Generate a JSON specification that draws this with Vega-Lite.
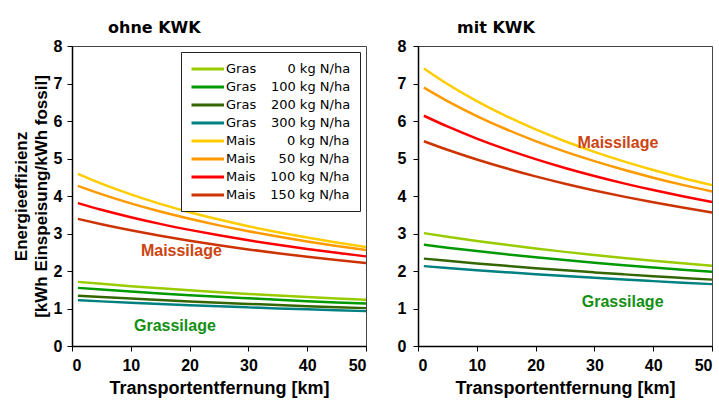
{
  "$schema": "https://vega.github.io/schema/vega-lite/v6.json",
  "padding": {"left": 11, "top": 19, "right": 3, "bottom": 2},
  "background": "white",
  "datasets": {
    "ohne": [
      {"serie":"Gras 0","km":1,"eff":1.71},{"serie":"Gras 0","km":5,"eff":1.657},{"serie":"Gras 0","km":10,"eff":1.596},{"serie":"Gras 0","km":15,"eff":1.538},{"serie":"Gras 0","km":20,"eff":1.485},{"serie":"Gras 0","km":25,"eff":1.436},{"serie":"Gras 0","km":30,"eff":1.389},{"serie":"Gras 0","km":35,"eff":1.346},{"serie":"Gras 0","km":40,"eff":1.305},{"serie":"Gras 0","km":45,"eff":1.266},{"serie":"Gras 0","km":50,"eff":1.23},
      {"serie":"Gras 100","km":1,"eff":1.55},{"serie":"Gras 100","km":5,"eff":1.504},{"serie":"Gras 100","km":10,"eff":1.451},{"serie":"Gras 100","km":15,"eff":1.401},{"serie":"Gras 100","km":20,"eff":1.355},{"serie":"Gras 100","km":25,"eff":1.311},{"serie":"Gras 100","km":30,"eff":1.271},{"serie":"Gras 100","km":35,"eff":1.232},{"serie":"Gras 100","km":40,"eff":1.196},{"serie":"Gras 100","km":45,"eff":1.162},{"serie":"Gras 100","km":50,"eff":1.13},
      {"serie":"Gras 200","km":1,"eff":1.34},{"serie":"Gras 200","km":5,"eff":1.305},{"serie":"Gras 200","km":10,"eff":1.264},{"serie":"Gras 200","km":15,"eff":1.226},{"serie":"Gras 200","km":20,"eff":1.189},{"serie":"Gras 200","km":25,"eff":1.155},{"serie":"Gras 200","km":30,"eff":1.123},{"serie":"Gras 200","km":35,"eff":1.092},{"serie":"Gras 200","km":40,"eff":1.063},{"serie":"Gras 200","km":45,"eff":1.036},{"serie":"Gras 200","km":50,"eff":1.01},
      {"serie":"Gras 300","km":1,"eff":1.22},{"serie":"Gras 300","km":5,"eff":1.19},{"serie":"Gras 300","km":10,"eff":1.154},{"serie":"Gras 300","km":15,"eff":1.12},{"serie":"Gras 300","km":20,"eff":1.088},{"serie":"Gras 300","km":25,"eff":1.058},{"serie":"Gras 300","km":30,"eff":1.03},{"serie":"Gras 300","km":35,"eff":1.003},{"serie":"Gras 300","km":40,"eff":0.977},{"serie":"Gras 300","km":45,"eff":0.953},{"serie":"Gras 300","km":50,"eff":0.93},
      {"serie":"Mais 0","km":1,"eff":4.59},{"serie":"Mais 0","km":5,"eff":4.329},{"serie":"Mais 0","km":10,"eff":4.042},{"serie":"Mais 0","km":15,"eff":3.79},{"serie":"Mais 0","km":20,"eff":3.568},{"serie":"Mais 0","km":25,"eff":3.371},{"serie":"Mais 0","km":30,"eff":3.194},{"serie":"Mais 0","km":35,"eff":3.035},{"serie":"Mais 0","km":40,"eff":2.891},{"serie":"Mais 0","km":45,"eff":2.76},{"serie":"Mais 0","km":50,"eff":2.64},
      {"serie":"Mais 50","km":1,"eff":4.27},{"serie":"Mais 50","km":5,"eff":4.049},{"serie":"Mais 50","km":10,"eff":3.803},{"serie":"Mais 50","km":15,"eff":3.586},{"serie":"Mais 50","km":20,"eff":3.392},{"serie":"Mais 50","km":25,"eff":3.217},{"serie":"Mais 50","km":30,"eff":3.06},{"serie":"Mais 50","km":35,"eff":2.918},{"serie":"Mais 50","km":40,"eff":2.788},{"serie":"Mais 50","km":45,"eff":2.669},{"serie":"Mais 50","km":50,"eff":2.56},
      {"serie":"Mais 100","km":1,"eff":3.81},{"serie":"Mais 100","km":5,"eff":3.634},{"serie":"Mais 100","km":10,"eff":3.435},{"serie":"Mais 100","km":15,"eff":3.257},{"serie":"Mais 100","km":20,"eff":3.097},{"serie":"Mais 100","km":25,"eff":2.951},{"serie":"Mais 100","km":30,"eff":2.819},{"serie":"Mais 100","km":35,"eff":2.698},{"serie":"Mais 100","km":40,"eff":2.587},{"serie":"Mais 100","km":45,"eff":2.484},{"serie":"Mais 100","km":50,"eff":2.39},
      {"serie":"Mais 150","km":1,"eff":3.39},{"serie":"Mais 150","km":5,"eff":3.248},{"serie":"Mais 150","km":10,"eff":3.087},{"serie":"Mais 150","km":15,"eff":2.941},{"serie":"Mais 150","km":20,"eff":2.808},{"serie":"Mais 150","km":25,"eff":2.687},{"serie":"Mais 150","km":30,"eff":2.576},{"serie":"Mais 150","km":35,"eff":2.474},{"serie":"Mais 150","km":40,"eff":2.379},{"serie":"Mais 150","km":45,"eff":2.291},{"serie":"Mais 150","km":50,"eff":2.21}
    ],
    "mit": [
      {"serie":"Gras 0","km":1,"eff":3.01},{"serie":"Gras 0","km":5,"eff":2.913},{"serie":"Gras 0","km":10,"eff":2.801},{"serie":"Gras 0","km":15,"eff":2.697},{"serie":"Gras 0","km":20,"eff":2.6},{"serie":"Gras 0","km":25,"eff":2.51},{"serie":"Gras 0","km":30,"eff":2.426},{"serie":"Gras 0","km":35,"eff":2.348},{"serie":"Gras 0","km":40,"eff":2.274},{"serie":"Gras 0","km":45,"eff":2.205},{"serie":"Gras 0","km":50,"eff":2.14},
      {"serie":"Gras 100","km":1,"eff":2.7},{"serie":"Gras 100","km":5,"eff":2.622},{"serie":"Gras 100","km":10,"eff":2.531},{"serie":"Gras 100","km":15,"eff":2.446},{"serie":"Gras 100","km":20,"eff":2.366},{"serie":"Gras 100","km":25,"eff":2.292},{"serie":"Gras 100","km":30,"eff":2.222},{"serie":"Gras 100","km":35,"eff":2.156},{"serie":"Gras 100","km":40,"eff":2.094},{"serie":"Gras 100","km":45,"eff":2.035},{"serie":"Gras 100","km":50,"eff":1.98},
      {"serie":"Gras 200","km":1,"eff":2.33},{"serie":"Gras 200","km":5,"eff":2.271},{"serie":"Gras 200","km":10,"eff":2.202},{"serie":"Gras 200","km":15,"eff":2.137},{"serie":"Gras 200","km":20,"eff":2.075},{"serie":"Gras 200","km":25,"eff":2.017},{"serie":"Gras 200","km":30,"eff":1.963},{"serie":"Gras 200","km":35,"eff":1.911},{"serie":"Gras 200","km":40,"eff":1.861},{"serie":"Gras 200","km":45,"eff":1.815},{"serie":"Gras 200","km":50,"eff":1.77},
      {"serie":"Gras 300","km":1,"eff":2.13},{"serie":"Gras 300","km":5,"eff":2.081},{"serie":"Gras 300","km":10,"eff":2.022},{"serie":"Gras 300","km":15,"eff":1.967},{"serie":"Gras 300","km":20,"eff":1.914},{"serie":"Gras 300","km":25,"eff":1.864},{"serie":"Gras 300","km":30,"eff":1.817},{"serie":"Gras 300","km":35,"eff":1.772},{"serie":"Gras 300","km":40,"eff":1.73},{"serie":"Gras 300","km":45,"eff":1.689},{"serie":"Gras 300","km":50,"eff":1.65},
      {"serie":"Mais 0","km":1,"eff":7.4},{"serie":"Mais 0","km":5,"eff":6.986},{"serie":"Mais 0","km":10,"eff":6.53},{"serie":"Mais 0","km":15,"eff":6.13},{"serie":"Mais 0","km":20,"eff":5.776},{"serie":"Mais 0","km":25,"eff":5.461},{"serie":"Mais 0","km":30,"eff":5.178},{"serie":"Mais 0","km":35,"eff":4.923},{"serie":"Mais 0","km":40,"eff":4.692},{"serie":"Mais 0","km":45,"eff":4.482},{"serie":"Mais 0","km":50,"eff":4.29},
      {"serie":"Mais 50","km":1,"eff":6.89},{"serie":"Mais 50","km":5,"eff":6.531},{"serie":"Mais 50","km":10,"eff":6.133},{"serie":"Mais 50","km":15,"eff":5.78},{"serie":"Mais 50","km":20,"eff":5.465},{"serie":"Mais 50","km":25,"eff":5.183},{"serie":"Mais 50","km":30,"eff":4.929},{"serie":"Mais 50","km":35,"eff":4.698},{"serie":"Mais 50","km":40,"eff":4.488},{"serie":"Mais 50","km":45,"eff":4.296},{"serie":"Mais 50","km":50,"eff":4.12},
      {"serie":"Mais 100","km":1,"eff":6.14},{"serie":"Mais 100","km":5,"eff":5.854},{"serie":"Mais 100","km":10,"eff":5.531},{"serie":"Mais 100","km":15,"eff":5.243},{"serie":"Mais 100","km":20,"eff":4.983},{"serie":"Mais 100","km":25,"eff":4.747},{"serie":"Mais 100","km":30,"eff":4.533},{"serie":"Mais 100","km":35,"eff":4.337},{"serie":"Mais 100","km":40,"eff":4.158},{"serie":"Mais 100","km":45,"eff":3.993},{"serie":"Mais 100","km":50,"eff":3.84},
      {"serie":"Mais 150","km":1,"eff":5.46},{"serie":"Mais 150","km":5,"eff":5.232},{"serie":"Mais 150","km":10,"eff":4.973},{"serie":"Mais 150","km":15,"eff":4.738},{"serie":"Mais 150","km":20,"eff":4.524},{"serie":"Mais 150","km":25,"eff":4.328},{"serie":"Mais 150","km":30,"eff":4.149},{"serie":"Mais 150","km":35,"eff":3.984},{"serie":"Mais 150","km":40,"eff":3.832},{"serie":"Mais 150","km":45,"eff":3.691},{"serie":"Mais 150","km":50,"eff":3.56}
    ],
    "ohneText": [
      {"text":"Maissilage","km":18.6,"eff":2.53},
      {"text":"Grassilage","km":17.5,"eff":0.54}
    ],
    "mitText": [
      {"text":"Maissilage","km":34.0,"eff":5.42},
      {"text":"Grassilage","km":34.8,"eff":1.17}
    ]
  },
  "hconcat": [
    {
      "title": {"text": "ohne KWK", "anchor": "start", "frame": "group", "dx": 36},
      "width": 294,
      "height": 300,
      "layer": [
        {
          "data": {"name": "ohne"},
          "mark": {"type": "line", "strokeWidth": 2.5, "interpolate": "monotone"},
          "encoding": {
            "x": {"field": "km", "type": "quantitative", "scale": {"domain": [0, 50], "nice": false},
                  "axis": {"values": [0, 10, 20, 30, 40, 50], "title": "Transportentfernung [km]"}},
            "y": {"field": "eff", "type": "quantitative", "scale": {"domain": [0, 8], "nice": false},
                  "axis": {"values": [0, 1, 2, 3, 4, 5, 6, 7, 8], "tickCount": 9, "labelOverlap": false, "labelPadding": 5, "title": ["Energieeffizienz", "[kWh Einspeisung/kWh fossil]"], "titlePadding": 3, "titleLineHeight": 20}},
            "color": {"field": "serie", "type": "nominal",
              "scale": {"domain": ["Gras 0", "Gras 100", "Gras 200", "Gras 300", "Mais 0", "Mais 50", "Mais 100", "Mais 150"],
                        "range": ["#99cc00", "#009900", "#336600", "#008080", "#ffcc00", "#ff9900", "#ff0000", "#cc3300"]},
              "legend": {
                "title": null, "orient": "top-right", "offset": 6,
                "labelExpr": "split(datum.label, ' ')[0] + '\u2007\u2002' + (length(split(datum.label, ' ')[1]) == 1 ? '\u2007\u2007' : (length(split(datum.label, ' ')[1]) == 2 ? '\u2007' : '')) + split(datum.label, ' ')[1] + ' kg N/ha'"
              }}
          }
        },
        {
          "data": {"name": "ohneText"},
          "mark": {"type": "text", "font": "Liberation Sans", "fontWeight": "bold", "fontSize": 16},
          "encoding": {
            "x": {"field": "km", "type": "quantitative"},
            "y": {"field": "eff", "type": "quantitative"},
            "text": {"field": "text"},
            "color": {"condition": {"test": "datum.text == 'Maissilage'", "value": "#cc4411"}, "value": "#138f13"}
          }
        }
      ]
    },
    {
      "title": {"text": "mit KWK", "anchor": "start", "frame": "group", "dx": 39},
      "width": 294,
      "height": 300,
      "layer": [
        {
          "data": {"name": "mit"},
          "mark": {"type": "line", "strokeWidth": 2.5, "interpolate": "monotone"},
          "encoding": {
            "x": {"field": "km", "type": "quantitative", "scale": {"domain": [0, 50], "nice": false},
                  "axis": {"values": [0, 10, 20, 30, 40, 50], "title": "Transportentfernung [km]"}},
            "y": {"field": "eff", "type": "quantitative", "scale": {"domain": [0, 8], "nice": false},
                  "axis": {"values": [0, 1, 2, 3, 4, 5, 6, 7, 8], "tickCount": 9, "labelOverlap": false, "labelPadding": 7, "title": null}},
            "color": {"field": "serie", "type": "nominal",
              "scale": {"domain": ["Gras 0", "Gras 100", "Gras 200", "Gras 300", "Mais 0", "Mais 50", "Mais 100", "Mais 150"],
                        "range": ["#99cc00", "#009900", "#336600", "#008080", "#ffcc00", "#ff9900", "#ff0000", "#cc3300"]},
              "legend": null}
          }
        },
        {
          "data": {"name": "mitText"},
          "mark": {"type": "text", "font": "Liberation Sans", "fontWeight": "bold", "fontSize": 16},
          "encoding": {
            "x": {"field": "km", "type": "quantitative"},
            "y": {"field": "eff", "type": "quantitative"},
            "text": {"field": "text"},
            "color": {"condition": {"test": "datum.text == 'Maissilage'", "value": "#cc4411"}, "value": "#138f13"}
          }
        }
      ]
    }
  ],
  "resolve": {"scale": {"color": "independent"}, "legend": {"color": "independent"}},
  "spacing": 24,
  "config": {
    "view": {"stroke": "#444", "strokeWidth": 1},
    "title": {"font": "DejaVu Sans", "fontSize": 16, "fontWeight": "bold", "color": "#000", "offset": 2},
    "axis": {
      "grid": false,
      "labelFont": "Liberation Sans Narrow, Liberation Sans",
      "labelFontWeight": "bold",
      "labelFontSize": 16,
      "labelColor": "#000",
      "labelPadding": 5,
      "labelOverlap": false,
      "labelBound": false,
      "titleFont": "Liberation Sans",
      "titleFontWeight": "bold",
      "titleFontSize": 17,
      "titleColor": "#000",
      "domainColor": "#000",
      "domainWidth": 1.5,
      "tickColor": "#000",
      "tickSize": 5
    },
    "axisX": {"titleFontSize": 18, "titlePadding": 6, "labelPadding": 6},
    "legend": {
      "labelFont": "DejaVu Sans",
      "labelFontSize": 13,
      "labelColor": "#000",
      "symbolType": "M-1,0H4",
      "symbolSize": 169,
      "symbolStrokeWidth": 3,
      "rowPadding": 3,
      "padding": 9,
      "strokeColor": "#222",
      "fillColor": "white",
      "labelOffset": 20,
      "labelLimit": 300
    }
  }
}
